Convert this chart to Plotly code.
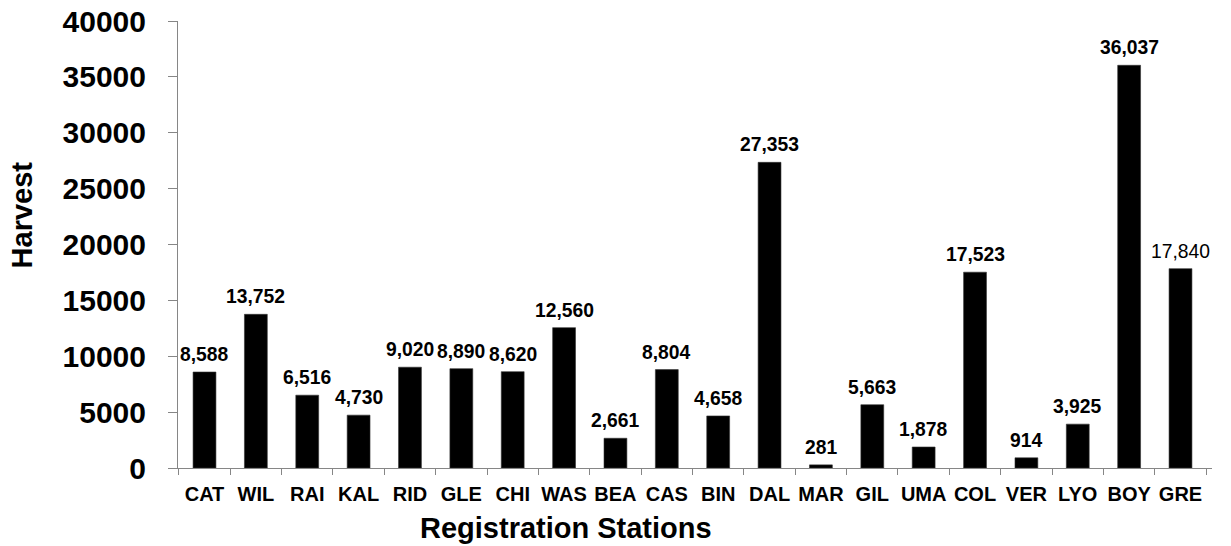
import plotly.graph_objects as go

# Registration station codes and harvest totals
stations = ["CAT", "WIL", "RAI", "KAL", "RID", "GLE", "CHI", "WAS", "BEA", "CAS",
            "BIN", "DAL", "MAR", "GIL", "UMA", "COL", "VER", "LYO", "BOY", "GRE"]
harvest = [8588, 13752, 6516, 4730, 9020, 8890, 8620, 12560, 2661, 8804,
           4658, 27353, 281, 5663, 1878, 17523, 914, 3925, 36037, 17840]
bold_label = [True] * 19 + [False]

y_ticks = [0, 5000, 10000, 15000, 20000, 25000, 30000, 35000, 40000]

FONT = "Arial, 'Liberation Sans', sans-serif"
AXIS_GREY = "#868686"

fig = go.Figure()
fig.add_trace(go.Bar(
    x=stations,
    y=harvest,
    marker=dict(color="black", line=dict(color="#333333", width=0.6)),
    hoverinfo="x+y",
))

annotations = []
for st, val, b in zip(stations, harvest, bold_label):
    annotations.append(dict(
        x=st, y=val, xref="x", yref="y",
        text=f"{val:,}",
        showarrow=False,
        yanchor="bottom",
        yshift=5,
        font=dict(family=FONT, size=19.3, color="black",
                  weight="bold" if b else "normal"),
    ))

# Axis titles
annotations.append(dict(
    x=0.375, y=0, xref="paper", yref="paper",
    yshift=-60, yanchor="middle", xanchor="center",
    text="Registration Stations", showarrow=False,
    font=dict(family=FONT, size=29, color="black", weight="bold"),
))
annotations.append(dict(
    x=0, y=0.565, xref="paper", yref="paper",
    xshift=-156, xanchor="center", yanchor="middle",
    text="Harvest", textangle=-90, showarrow=False,
    font=dict(family=FONT, size=29, color="black", weight="bold"),
))

fig.update_layout(
    width=1231, height=546,
    margin=dict(l=178, r=19, t=21, b=78),
    paper_bgcolor="white", plot_bgcolor="white",
    bargap=0.555,
    showlegend=False,
    annotations=annotations,
    xaxis=dict(
        type="category",
        automargin=False,
        showline=True, linecolor=AXIS_GREY, linewidth=1,
        ticks="outside", tickson="boundaries", ticklen=6,
        tickcolor=AXIS_GREY, tickwidth=1,
        tickangle=0,
        tickfont=dict(family=FONT, size=20, color="black", weight="bold"),
        ticklabelstandoff=8,
        showgrid=False, zeroline=False,
    ),
    yaxis=dict(
        automargin=False,
        range=[0, 40000],
        tickvals=y_ticks,
        ticktext=[str(v) for v in y_ticks],
        showline=True, linecolor=AXIS_GREY, linewidth=1,
        ticks="outside", ticklen=9, tickcolor=AXIS_GREY, tickwidth=1,
        tickfont=dict(family=FONT, size=30, color="black", weight="bold"),
        ticklabelstandoff=16,
        showgrid=False, zeroline=False,
    ),
)

fig.write_html("out.html")
